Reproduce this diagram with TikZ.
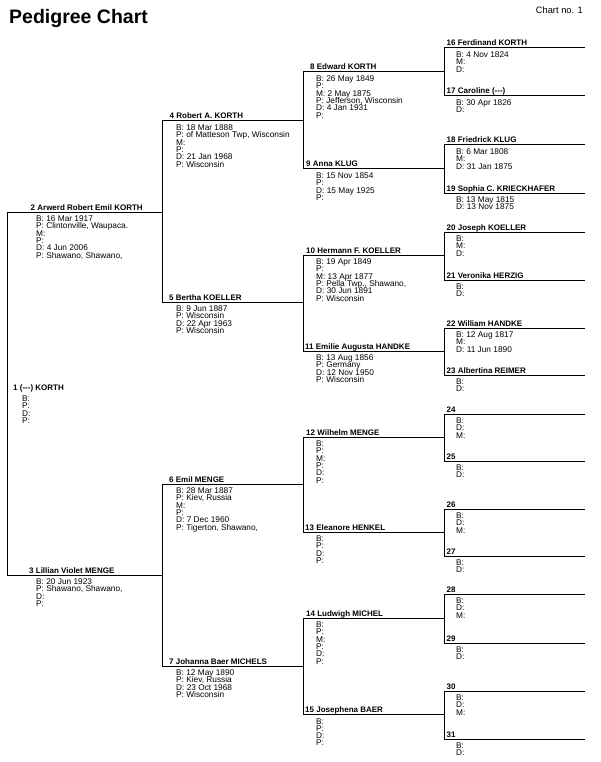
\documentclass[tikz,border=0pt]{standalone}
\usepackage{fontspec}
\setmainfont{Liberation Sans}
\tikzset{
  pline/.style={line width=1pt, line join=miter},
  lbl/.style={anchor=base west, inner sep=0pt, font={\fontsize{8}{9}\selectfont\bfseries}},
  det/.style={anchor=north west, inner sep=0pt, align=left, font={\fontsize{8.3}{7.3}\selectfont\lineskiplimit=-20pt}},
}
% id, x1, x2, y, labelx, detailx, label, details
\newcommand\pers[8]{%
  \coordinate (a#1) at (#2,#4);
  \coordinate (b#1) at (#3,#4);
  \node[lbl] (n#1) at (#5,#4-2) {#7};
  \node[det] (d#1) at (#6,#4+3.6) {#8};
}
\begin{document}
\begin{tikzpicture}[x=1pt,y=-1pt]
\useasboundingbox (0,0) rectangle (600,762);
\node[anchor=base west, inner sep=0pt, font={\fontsize{19.5}{22}\selectfont\bfseries}] (title) at (9,24) {Pedigree Chart};
\node[anchor=base east, inner sep=0pt, font={\fontsize{9.3}{11}\selectfont}] (chartno) at (583,14) {Chart no. 1};
% generation 0
\node[lbl] (n1) at (13,390) {1 (-{}-{}-) KORTH};
\node[det] (d1) at (22,395.6) {B:\\P:\\D:\\P:};
% generation 1
\pers{2}{7.5}{162.5}{212}{30.5}{36}{2 Arwerd Robert Emil KORTH}{B: 16 Mar 1917\\P: Clintonville, Waupaca.\\M:\\P:\\D: 4 Jun 2006\\P: Shawano, Shawano,}
\pers{3}{7.5}{162.5}{575}{29}{36}{3 Lillian Violet MENGE}{B: 20 Jun 1923\\P: Shawano, Shawano,\\D:\\P:}
% generation 2
\pers{4}{162.5}{303.5}{121}{169.5}{176}{4 Robert A. KORTH}{B: 18 Mar 1888\\P: of Matteson Twp, Wisconsin\\M:\\P:\\D: 21 Jan 1968\\P: Wisconsin}
\pers{5}{162.5}{303.5}{302}{169}{176}{5 Bertha KOELLER}{B: 9 Jun 1887\\P: Wisconsin\\D: 22 Apr 1963\\P: Wisconsin}
\pers{6}{162.5}{303.5}{484}{169}{176}{6 Emil MENGE}{B: 28 Mar 1887\\P: Kiev, Russia\\M:\\P:\\D: 7 Dec 1960\\P: Tigerton, Shawano,}
\pers{7}{162.5}{303.5}{666}{169}{176}{7 Johanna Baer MICHELS}{B: 12 May 1890\\P: Kiev, Russia\\D: 23 Oct 1968\\P: Wisconsin}
% generation 3
\pers{8}{303.5}{444.5}{72}{310}{316}{8 Edward KORTH}{B: 26 May 1849\\P:\\M: 2 May 1875\\P: Jefferson, Wisconsin\\D: 4 Jan 1931\\P:}
\pers{9}{303.5}{444.5}{169}{306}{316}{9 Anna KLUG}{B: 15 Nov 1854\\P:\\D: 15 May 1925\\P:}
\pers{10}{303.5}{444.5}{255}{306}{316}{10 Hermann F. KOELLER}{B: 19 Apr 1849\\P:\\M: 13 Apr 1877\\P: Pella Twp., Shawano,\\D: 30 Jun 1891\\P: Wisconsin}
\pers{11}{303.5}{444.5}{351}{305}{316}{11 Emilie Augusta HANDKE}{B: 13 Aug 1856\\P: Germany\\D: 12 Nov 1950\\P: Wisconsin}
\pers{12}{303.5}{444.5}{437}{306}{316}{12 Wilhelm MENGE}{B:\\P:\\M:\\P:\\D:\\P:}
\pers{13}{303.5}{444.5}{532}{305}{316}{13 Eleanore HENKEL}{B:\\P:\\D:\\P:}
\pers{14}{303.5}{444.5}{618}{306}{316}{14 Ludwigh MICHEL}{B:\\P:\\M:\\P:\\D:\\P:}
\pers{15}{303.5}{444.5}{714.5}{305}{316}{15 Josephena BAER}{B:\\P:\\D:\\P:}
% generation 4
\pers{16}{444.5}{585}{48}{446.5}{456}{16 Ferdinand KORTH}{B: 4 Nov 1824\\M:\\D:}
\pers{17}{444.5}{585}{96}{446.5}{456}{17 Caroline (-{}-{}-)}{B: 30 Apr 1826\\D:}
\pers{18}{444.5}{585}{145}{446.5}{456}{18 Friedrick KLUG}{B: 6 Mar 1808\\M:\\D: 31 Jan 1875}
\pers{19}{444.5}{585}{193}{446.5}{456}{19 Sophia C. KRIECKHAFER}{B: 13 May 1815\\D: 13 Nov 1875}
\pers{20}{444.5}{585}{232}{446.5}{456}{20 Joseph KOELLER}{B:\\M:\\D:}
\pers{21}{444.5}{585}{280}{446.5}{456}{21 Veronika HERZIG}{B:\\D:}
\pers{22}{444.5}{585}{328}{446.5}{456}{22 William HANDKE}{B: 12 Aug 1817\\M:\\D: 11 Jun 1890}
\pers{23}{444.5}{585}{375}{446.5}{456}{23 Albertina REIMER}{B:\\D:}
\pers{24}{444.5}{585}{414}{446.5}{456}{24}{B:\\D:\\M:}
\pers{25}{444.5}{585}{461}{446.5}{456}{25}{B:\\D:}
\pers{26}{444.5}{585}{509}{446.5}{456}{26}{B:\\D:\\M:}
\pers{27}{444.5}{585}{556}{446.5}{456}{27}{B:\\D:}
\pers{28}{444.5}{585}{594}{446.5}{456}{28}{B:\\D:\\M:}
\pers{29}{444.5}{585}{643}{446.5}{456}{29}{B:\\D:}
\pers{30}{444.5}{585}{691}{446.5}{456}{30}{B:\\D:\\M:}
\pers{31}{444.5}{585}{739}{446.5}{456}{31}{B:\\D:}
% brackets joining each couple
\foreach \f/\m in {2/3,4/5,6/7,8/9,10/11,12/13,14/15,16/17,18/19,20/21,22/23,24/25,26/27,28/29,30/31}
  \draw[pline] (b\f) -- (a\f) -- (a\m) -- (b\m);
\end{tikzpicture}
\end{document}
